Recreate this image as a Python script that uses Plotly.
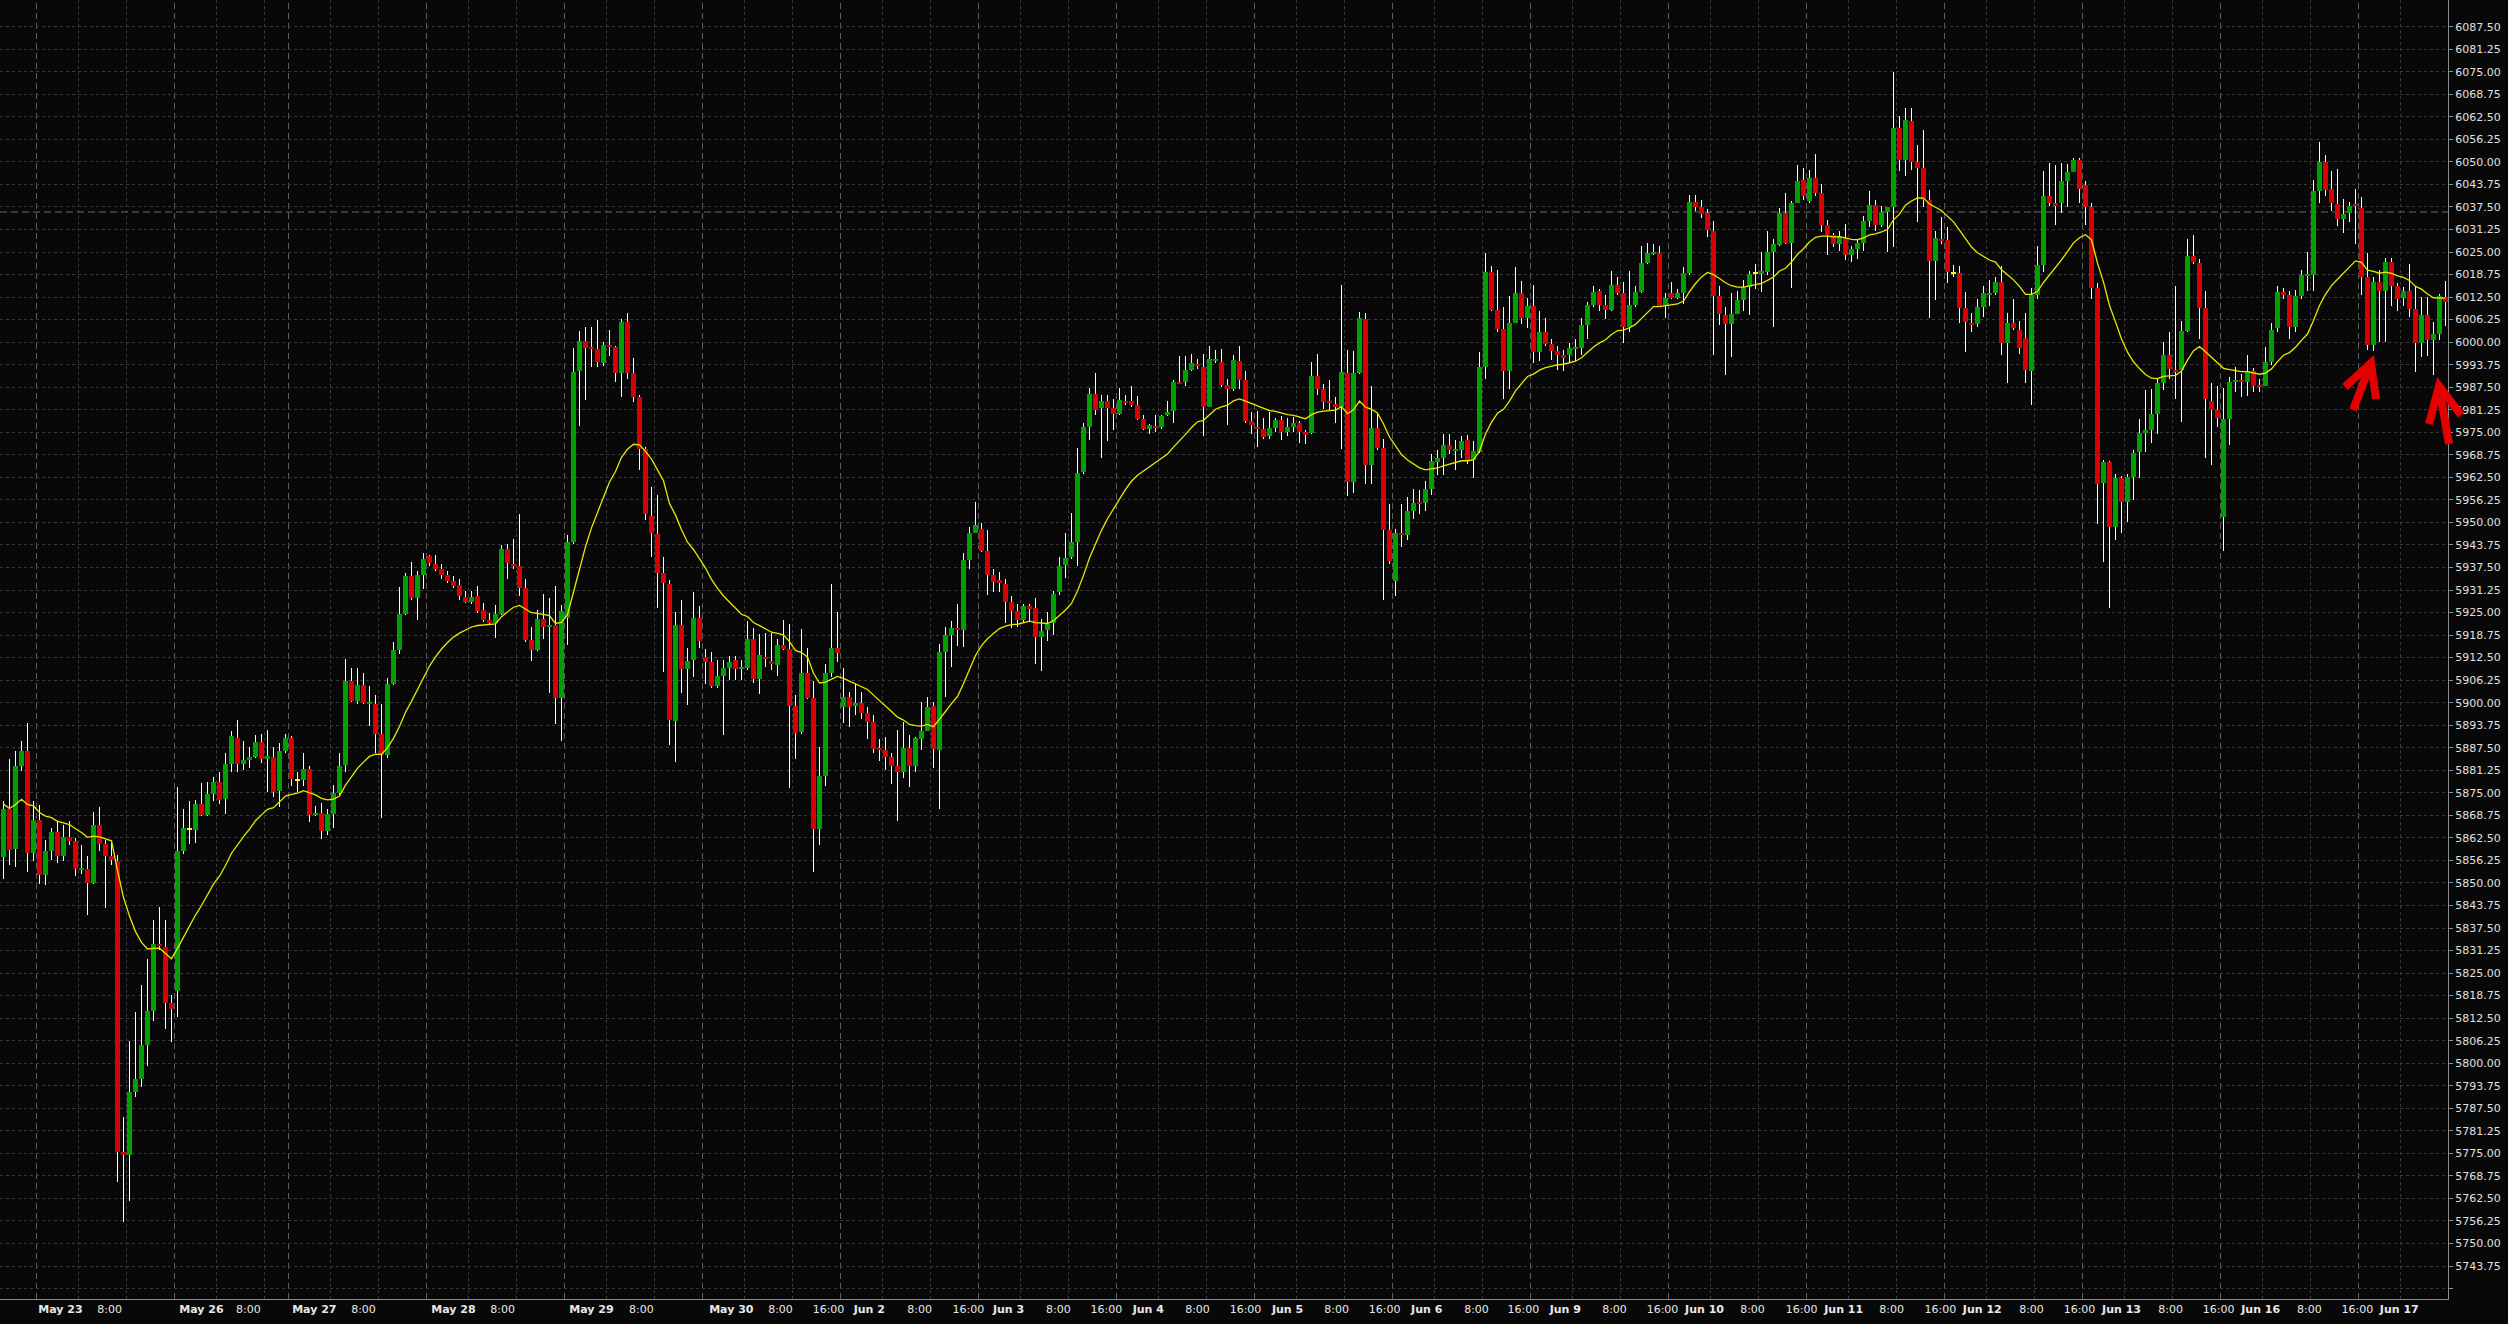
import plotly.graph_objects as go

# ---------------- data (hourly bars) ----------------
opens = [5857.1,5870.6,5859.4,5882.3,5886.7,5858.2,5867.5,5852.2,5858.9,5864.2,5857.5,5862.8,5861.6,5853.8,5854.0,5850.0,5866.1,5860.8,5857.4,5856.1,
5775.4,5774.5,5791.9,5795.6,5805.0,5814.4,5833.2,5832.3,5816.8,5819.9,5858.9,5864.8,5864.8,5871.9,5868.8,5874.6,5878.0,5873.3,5882.9,5890.3,
5883.1,5884.0,5885.0,5889.2,5884.3,5885.0,5875.5,5886.6,5890.3,5878.4,5878.6,5881.7,5868.8,5869.5,5864.5,5869.2,5874.9,5882.6,5906.0,5900.5,
5904.8,5899.9,5899.7,5891.4,5885.4,5905.2,5914.5,5924.6,5935.1,5929.0,5935.4,5940.7,5938.4,5937.1,5935.5,5933.7,5932.7,5929.4,5928.0,5929.6,
5925.7,5923.0,5922.0,5924.6,5942.7,5938.4,5937.8,5931.7,5917.3,5914.6,5923.3,5921.0,5921.6,5901.2,5923.6,5944.5,5992.1,6000.3,5998.7,5998.1,
5994.3,5999.2,5998.7,5991.4,6005.7,5991.4,5984.7,5970.3,5951.8,5946.8,5936.1,5932.8,5895.0,5921.5,5909.4,5911.9,5923.4,5912.7,5911.4,5904.6,
5907.5,5909.7,5911.9,5909.4,5909.7,5917.6,5906.6,5912.8,5911.7,5910.5,5916.0,5914.9,5899.1,5891.8,5908.1,5901.3,5865.0,5879.8,5908.1,5915.2,
5898.8,5901.5,5899.0,5899.9,5897.1,5894.7,5887.2,5887.0,5884.8,5882.5,5880.7,5887.5,5882.5,5889.8,5892.2,5899.1,5886.9,5914.1,5918.7,5920.7,
5920.2,5939.6,5947.2,5948.3,5942.1,5935.5,5933.9,5932.8,5927.8,5925.4,5922.9,5926.7,5926.4,5918.3,5920.1,5922.0,5930.6,5938.2,5940.4,5944.5,
5964.0,5976.6,5985.6,5981.6,5983.6,5981.6,5980.2,5983.6,5983.6,5982.7,5978.8,5975.9,5976.7,5976.4,5979.7,5980.8,5988.9,5988.9,5992.2,5994.0,
5993.1,5982.1,5994.9,5994.4,5988.2,5986.9,5994.8,5989.4,5978.2,5976.3,5976.0,5974.0,5976.2,5978.5,5975.0,5976.5,5977.5,5975.0,5974.7,5990.7,
5987.1,5983.7,5982.9,5981.9,5991.4,5961.1,5991.4,6006.3,5965.8,5976.3,5970.7,5948.0,5933.8,5947.2,5946.5,5953.1,5955.6,5955.4,5959.3,5966.8,
5968.0,5971.5,5970.0,5970.2,5972.8,5967.2,5969.6,5993.1,6019.4,6008.9,6003.6,5992.0,6005.3,6013.5,6006.8,6010.0,5997.4,6002.8,5999.6,5997.6,
5996.3,5996.3,5998.3,5998.3,6004.8,6010.4,6014.2,6010.4,6008.9,6015.9,6013.5,6004.3,6010.4,6013.9,6021.9,6024.6,6024.8,6009.9,6013.5,6012.2,
6013.5,6019.2,6038.8,6037.5,6035.7,6030.8,6012.7,6007.5,6005.0,6007.9,6011.7,6015.2,6018.9,6018.9,6019.4,6025.1,6027.0,6035.7,6027.6,6038.5,
6044.9,6039.2,6045.6,6041.5,6032.4,6029.6,6027.3,6029.0,6024.3,6025.8,6027.6,6033.6,6038.0,6032.4,6036.1,6037.4,6059.5,6050.4,6061.3,6050.1,
6048.3,6039.5,6022.4,6028.6,6028.3,6018.9,6019.2,6009.5,6005.3,6005.0,6009.7,6013.3,6013.6,6016.8,5999.9,6005.2,6003.4,6001.2,5992.1,6013.1,
6021.4,6040.5,6038.5,6038.5,6044.8,6047.1,6050.6,6043.7,6037.4,6014.9,5960.8,5966.7,5948.6,5962.3,5955.7,5962.6,5969.6,5974.8,5975.5,5980.1,
5988.7,5996.4,5992.3,5992.3,6003.2,6023.9,6022.0,6009.5,5983.6,5981.3,5951.4,5978.6,5989.0,5989.5,5989.0,5992.1,5988.2,5987.7,5994.6,6003.9,
6013.8,6013.1,6004.2,6012.8,6018.5,6018.5,6041.8,6049.9,6042.5,6038.3,6034.1,6035.9,6038.2,6037.1,6018.2,5999.2,6016.8,6014.2,6022.1,6015.7,
6012.2,6014.3,6009.1,5999.7,6007.5,6000.6,6002.3,6012.6]

highs = [5872.6,5884.4,5886.7,5889.4,5894.5,5872.6,5871.5,5861.8,5865.2,5867.2,5866.2,5867.2,5862.5,5860.5,5857.5,5869.6,5871.0,5861.8,5861.2,5857.8,
5785.0,5806.1,5814.1,5821.8,5828.9,5839.7,5843.4,5839.7,5818.8,5876.6,5870.6,5872.6,5872.9,5877.7,5878.0,5879.3,5880.7,5886.0,5892.1,5895.2,
5889.4,5887.6,5891.1,5891.4,5892.5,5887.6,5888.7,5891.4,5890.7,5880.7,5886.0,5882.3,5871.3,5872.3,5870.6,5877.3,5886.0,5912.2,5909.6,5909.6,
5908.2,5904.6,5902.2,5899.5,5906.9,5916.9,5932.0,5936.0,5939.1,5936.4,5941.4,5941.1,5941.1,5938.4,5936.4,5935.1,5934.4,5931.1,5931.1,5932.4,
5927.7,5925.0,5927.0,5943.8,5944.1,5945.4,5952.2,5934.4,5921.0,5925.7,5930.1,5929.0,5932.4,5927.0,5946.5,5998.5,6003.1,6004.3,6004.1,6006.1,
6000.1,6003.4,5999.0,6006.5,6008.2,5995.5,5985.3,5971.0,5959.9,5957.6,5940.5,5933.9,5925.1,5928.6,5915.2,5930.6,5926.7,5914.9,5914.1,5911.9,
5911.9,5913.0,5913.0,5911.9,5922.7,5920.7,5919.1,5919.3,5919.3,5917.6,5922.9,5921.8,5902.0,5920.5,5915.2,5905.9,5887.8,5910.8,5933.0,5925.1,
5909.7,5903.1,5905.3,5903.1,5898.8,5896.6,5890.0,5890.5,5886.1,5892.4,5894.6,5891.1,5890.5,5900.1,5901.5,5900.1,5916.3,5920.9,5922.7,5927.3,
5941.5,5948.7,5955.6,5949.8,5947.9,5937.1,5936.3,5934.4,5929.5,5927.3,5927.5,5927.3,5928.9,5923.1,5925.1,5931.1,5940.4,5947.0,5952.7,5970.6,
5977.7,5987.4,5991.5,5985.4,5985.4,5984.3,5987.4,5985.4,5987.8,5985.1,5979.9,5977.2,5979.9,5979.9,5983.8,5989.6,5996.2,5996.2,5996.7,5995.3,
5996.7,5998.8,5997.7,5998.0,5989.8,5996.3,5998.8,5991.9,5980.5,5980.9,5979.0,5980.5,5979.0,5979.5,5979.0,5979.2,5978.0,5975.5,5994.6,5996.6,
5988.4,5989.4,5984.7,6015.9,5997.8,5997.6,6008.4,6008.2,5987.9,5980.0,5973.0,5955.2,5948.2,5955.2,5957.1,5959.4,5959.1,5961.6,5969.1,5970.0,
5974.5,5974.5,5972.8,5974.0,5974.2,5972.5,5997.3,6024.6,6021.1,6020.1,6009.7,6012.7,6020.8,6016.9,6012.2,6015.9,6008.7,6006.8,6000.8,5998.8,
5997.8,5999.8,6000.8,6006.8,6011.2,6015.5,6014.7,6013.2,6019.6,6018.2,6016.7,6019.6,6015.5,6026.8,6027.6,6027.1,6026.6,6013.7,6016.7,6014.7,
6020.8,6040.7,6040.7,6039.5,6037.0,6033.7,6015.5,6009.7,6013.7,6014.2,6017.2,6019.6,6021.8,6025.1,6030.8,6028.6,6037.3,6041.3,6039.2,6049.2,
6048.4,6047.7,6052.2,6044.0,6034.0,6030.3,6030.8,6032.9,6026.8,6028.3,6034.9,6042.0,6039.5,6037.9,6037.6,6074.8,6062.8,6064.9,6064.9,6054.7,
6058.9,6042.3,6030.8,6034.6,6031.9,6021.4,6021.2,6013.9,6008.0,6012.1,6015.6,6017.1,6018.2,6021.0,6008.0,6012.1,6006.0,6008.0,6015.1,6026.8,
6047.6,6049.6,6049.1,6049.6,6049.4,6051.1,6051.1,6044.6,6038.5,6016.3,5967.4,5966.9,5963.3,5962.8,5963.3,5970.2,5978.6,5986.7,5986.9,5989.7,
6000.0,6002.9,6015.6,6006.0,6028.5,6029.8,6023.2,6014.3,5988.7,5987.7,5987.2,5990.2,5993.0,5991.3,5996.3,5992.8,5989.7,5998.7,6005.2,6015.6,
6015.1,6014.1,6014.6,6019.9,6025.0,6045.0,6055.5,6051.9,6047.6,6048.1,6039.7,6039.0,6042.5,6040.3,6024.6,6018.2,6020.0,6023.4,6023.4,6016.4,
6015.4,6021.6,6015.4,6012.5,6012.5,6005.5,6013.4,6016.9]

lows = [5851.1,5855.1,5854.5,5881.0,5853.1,5856.0,5849.7,5849.4,5856.5,5855.5,5856.0,5860.5,5851.8,5852.5,5841.0,5849.7,5859.0,5843.0,5855.0,5767.1,
5755.9,5761.7,5790.6,5793.3,5799.3,5811.8,5831.5,5809.4,5806.0,5812.8,5858.0,5860.8,5861.2,5868.6,5868.6,5872.6,5871.9,5869.2,5880.7,5880.9,
5881.3,5882.0,5884.7,5883.4,5875.3,5873.9,5871.0,5886.0,5876.9,5875.3,5877.0,5867.0,5868.5,5862.1,5863.2,5865.2,5874.5,5880.7,5900.1,5899.5,
5899.5,5893.4,5886.0,5867.9,5884.7,5904.9,5913.6,5924.4,5928.4,5923.0,5931.5,5938.0,5936.4,5934.4,5933.1,5931.7,5928.4,5927.7,5927.4,5925.0,
5922.3,5921.6,5918.0,5924.3,5934.4,5937.1,5929.7,5916.9,5911.6,5914.3,5917.6,5902.6,5894.1,5889.4,5915.9,5944.0,5976.8,5983.9,5993.2,5993.2,
5993.4,5996.2,5989.0,5984.9,5989.7,5983.5,5964.5,5950.8,5940.3,5926.2,5908.6,5888.3,5883.6,5902.6,5899.3,5907.0,5915.2,5905.3,5904.2,5904.2,
5891.1,5906.4,5906.4,5906.2,5909.2,5905.5,5902.3,5910.0,5909.2,5907.5,5914.7,5876.3,5884.5,5891.3,5900.9,5852.9,5860.4,5876.8,5907.0,5911.4,
5894.4,5893.3,5896.6,5895.5,5890.0,5886.1,5883.9,5881.2,5877.4,5867.3,5879.2,5876.5,5880.9,5886.9,5892.2,5881.9,5870.4,5901.5,5910.0,5915.8,
5915.4,5937.1,5947.0,5941.8,5930.0,5930.6,5930.6,5922.0,5920.7,5920.9,5922.0,5922.3,5910.8,5908.9,5917.2,5918.7,5930.0,5934.7,5939.9,5938.0,
5963.5,5972.8,5979.9,5967.9,5972.5,5975.5,5979.9,5982.7,5982.1,5978.3,5975.5,5974.5,5975.0,5975.8,5979.4,5977.5,5988.3,5987.8,5992.0,5992.6,
5973.9,5982.0,5994.2,5987.6,5976.9,5986.4,5986.9,5977.5,5974.5,5971.0,5973.0,5973.0,5975.0,5972.8,5974.0,5975.0,5972.0,5971.8,5974.5,5985.4,
5981.4,5981.1,5977.5,5970.5,5957.3,5958.1,5991.1,5960.6,5960.6,5970.0,5928.4,5938.5,5929.7,5943.3,5945.2,5950.9,5952.2,5953.2,5957.6,5963.1,
5963.1,5969.0,5964.6,5968.0,5966.1,5962.3,5969.2,5989.9,6008.7,6002.8,5984.1,5986.9,6005.3,6005.0,6003.8,5994.3,5994.8,5998.8,5995.0,5992.4,
5991.9,5994.1,5994.8,5996.3,6000.8,6009.7,6008.7,6006.3,6008.7,6013.2,5999.8,6002.8,6009.7,6013.7,6021.6,6024.1,6009.7,6006.8,6011.9,6011.9,
6010.7,6018.6,6036.5,6034.5,6029.1,5996.3,6004.8,5990.9,5996.0,6007.7,6008.7,6007.5,6014.7,6013.9,6018.6,6004.3,6026.6,6027.1,6015.0,6038.5,
6039.5,6038.5,6040.5,6030.6,6024.1,6026.3,6025.3,6022.7,6022.2,6023.2,6025.3,6031.9,6030.9,6031.9,6025.0,6026.3,6047.6,6046.1,6047.8,6033.4,
6037.5,6006.8,6011.6,6027.3,6016.3,6018.2,6005.3,5997.4,6002.9,6004.2,6007.0,6010.0,6013.1,5996.3,5988.7,6003.4,5996.8,5988.7,5982.6,6012.1,
6019.5,6037.9,6032.4,6035.9,6037.5,6047.1,6038.5,6032.4,6012.0,5949.6,5939.0,5926.3,5945.1,5947.1,5950.2,5956.2,5962.3,5969.4,5972.0,5974.5,
5986.7,5989.7,5984.1,5977.8,6002.9,6021.7,6000.9,5967.9,5965.9,5976.6,5942.0,5971.5,5986.2,5984.7,5985.2,5986.2,5986.2,5987.7,5993.8,6002.9,
6012.1,6000.9,6002.9,6012.1,6014.1,6014.1,6038.6,6040.5,6036.4,6032.2,6030.3,6033.4,6027.3,6013.1,5997.9,5997.6,6000.1,6000.0,6010.0,6008.6,
6010.0,6007.0,5991.8,5996.0,5996.2,5990.8,6000.6,6004.5]

closes = [5870.6,5859.2,5882.3,5886.7,5858.2,5867.5,5852.2,5858.9,5864.2,5857.5,5862.8,5861.6,5853.8,5854.2,5850.0,5866.1,5860.8,5857.4,5856.3,5775.4,
5774.5,5791.9,5795.6,5805.0,5814.4,5833.2,5832.5,5816.8,5815.1,5858.9,5865.2,5864.8,5871.9,5868.8,5874.6,5878.0,5872.9,5882.9,5890.7,5883.1,
5884.0,5885.0,5889.2,5884.3,5885.2,5875.3,5886.6,5890.3,5878.9,5878.4,5881.7,5868.8,5869.5,5864.5,5869.2,5874.9,5882.4,5906.0,5900.5,5904.8,
5899.9,5900.1,5891.4,5885.4,5905.2,5914.5,5924.6,5935.1,5929.0,5935.4,5939.8,5938.8,5937.1,5935.5,5933.7,5932.4,5929.7,5928.0,5929.4,5925.3,
5923.0,5922.0,5924.6,5942.7,5938.7,5937.8,5931.7,5917.3,5914.6,5923.3,5921.0,5921.6,5901.2,5925.3,5944.5,5991.8,6000.3,5998.5,5998.1,5994.6,
5999.2,5998.7,5991.4,6005.7,5991.5,5984.7,5970.3,5952.2,5947.0,5936.1,5933.1,5895.2,5921.5,5909.4,5911.6,5923.4,5917.1,5911.4,5904.6,5907.5,
5909.7,5911.4,5909.4,5909.7,5917.6,5906.6,5913.2,5912.1,5910.6,5916.0,5914.9,5899.1,5891.6,5908.1,5901.3,5865.0,5879.8,5908.1,5915.2,5913.8,
5901.5,5898.8,5899.9,5897.1,5894.7,5887.2,5886.9,5885.0,5882.5,5880.9,5887.5,5882.5,5890.3,5892.2,5898.8,5887.2,5914.1,5918.7,5920.7,5920.2,
5939.6,5947.0,5949.2,5942.1,5935.5,5933.5,5933.3,5927.8,5925.3,5922.9,5926.7,5926.2,5918.3,5919.9,5921.8,5930.2,5938.0,5940.2,5944.5,5963.8,
5976.6,5985.6,5981.3,5983.6,5981.6,5980.0,5984.0,5983.0,5982.7,5978.8,5975.9,5976.9,5976.3,5979.4,5980.7,5988.9,5988.5,5992.2,5994.2,5993.3,
5982.1,5995.3,5995.3,5988.2,5986.9,5995.0,5989.4,5978.2,5977.0,5976.0,5973.8,5976.2,5978.5,5975.0,5976.5,5977.5,5975.0,5974.5,5990.7,5987.1,
5983.4,5983.1,5981.9,5991.7,5961.1,5991.4,6006.6,5965.8,5976.3,5970.7,5948.0,5939.3,5947.2,5946.5,5953.1,5955.4,5955.2,5959.3,5966.9,5967.9,
5971.5,5970.0,5970.4,5972.6,5967.1,5969.8,5993.1,6019.4,6008.9,6003.6,5991.9,6005.3,6013.5,6006.8,6010.0,5997.4,6002.8,5999.6,5997.6,5996.3,
5995.8,5998.3,5998.6,6004.8,6010.4,6013.9,6010.4,6008.9,6015.9,6013.7,6004.3,6010.4,6013.9,6021.9,6024.6,6024.8,6009.9,6012.2,6012.2,6013.5,
6019.2,6039.0,6037.5,6035.5,6031.1,6012.7,6007.9,6005.0,6007.9,6011.7,6015.2,6018.9,6018.9,6019.6,6025.1,6027.1,6035.7,6027.6,6038.5,6044.8,
6040.5,6045.6,6041.5,6032.4,6029.6,6027.3,6029.5,6024.3,6025.8,6027.6,6033.6,6038.0,6032.4,6036.1,6037.4,6059.5,6050.4,6061.6,6050.1,6048.3,
6039.5,6022.4,6028.8,6028.3,6019.4,6018.9,6009.5,6005.5,6004.8,6009.7,6013.7,6013.7,6016.8,5999.9,6005.2,6004.0,5998.4,5992.3,6013.1,6021.4,
6040.5,6038.5,6038.0,6044.8,6047.1,6050.6,6042.5,6037.6,6014.9,5960.6,5966.7,5948.6,5962.3,5955.7,5962.6,5969.2,5974.8,5975.5,5980.1,5988.7,
5996.4,5992.6,5991.9,6003.2,6023.9,6022.2,6009.5,5984.1,5981.3,5979.0,5978.6,5989.0,5989.5,5989.0,5992.1,5987.9,5987.7,5994.6,6003.4,6013.8,
6013.1,6004.2,6012.8,6018.5,6018.8,6041.8,6049.9,6042.3,6038.7,6034.1,6035.6,6037.9,6037.8,6018.2,5999.1,6016.6,6014.3,6022.1,6015.7,6012.0,
6014.1,6009.1,5999.7,6007.5,6000.6,6002.3,6012.8,6011.0]

# first bar index of each trading day (1:00 server time)
day_starts = [6, 29, 48, 71, 94, 117, 140, 163, 186, 209, 232, 255, 278, 301, 324, 347, 370, 393]
intraday_offsets = [7, 15]          # 8:00 and 16:00 bars

# time-axis labels and their positions (bar units)
tick_pos = [9.5, 17.7, 33.0, 40.8, 51.8, 60.0, 75.0, 83.2, 98.0, 106.3, 121.3, 129.5, 137.5, 144.3, 152.7, 160.8,
            167.5, 175.8, 183.8, 190.8, 199.0, 207.0, 214.0, 222.2, 230.2, 237.2, 245.5, 253.3, 260.3, 268.5, 276.5,
            283.5, 291.5, 299.7, 306.7, 314.7, 322.8, 329.8, 338.0, 346.0, 353.0, 361.2, 369.2, 376.2, 384.3, 392.3, 399.3]
tick_txt = ["May 23", "8:00", "May 26", "8:00", "May 27", "8:00", "May 28", "8:00", "May 29", "8:00",
            "May 30", "8:00", "16:00", "Jun 2", "8:00", "16:00", "Jun 3", "8:00", "16:00", "Jun 4", "8:00", "16:00",
            "Jun 5", "8:00", "16:00", "Jun 6", "8:00", "16:00", "Jun 9", "8:00", "16:00", "Jun 10", "8:00", "16:00",
            "Jun 11", "8:00", "16:00", "Jun 12", "8:00", "16:00", "Jun 13", "8:00", "16:00", "Jun 16", "8:00", "16:00", "Jun 17"]

price_step = 6.25
price_lo, price_hi = 5737.5, 6087.5
h_line_level = 6036.1
ema_period = 20
ema_seed = 5872.0

# ---------------- derived ----------------
n = len(closes)
idx = list(range(n))

alpha = 2.0 / (ema_period + 1)
ema, prev = [], ema_seed
for c in closes:
    prev = prev + alpha * (c - prev)
    ema.append(prev)

UP, DN, DOJI = "#00a000", "#d80000", "#ffff00"
base, hgt, cols = [], [], []
for o, c in zip(opens, closes):
    base.append(min(o, c))
    d = abs(c - o)
    hgt.append(max(d, 0.3))
    cols.append(DOJI if d == 0 else (UP if c > o else DN))

fig = go.Figure()
# wicks (thin white bars from low to high)
fig.add_trace(go.Bar(x=idx, y=[h - l for h, l in zip(highs, lows)], base=lows, width=1 / 6,
                     marker=dict(color="#ffffff", line=dict(width=0)), hoverinfo="skip"))
# bodies
fig.add_trace(go.Bar(x=idx, y=hgt, base=base, width=5 / 6,
                     marker=dict(color=cols, line=dict(width=0))))
# moving average
fig.add_trace(go.Scatter(x=idx, y=ema, mode="lines", line=dict(color="#e8e800", width=1.3)))

shapes = []
for k, d in enumerate(day_starts):
    nxt = day_starts[k + 1] if k + 1 < len(day_starts) else n + 50
    shapes.append(dict(type="line", xref="x", yref="paper", x0=d - 0.5, x1=d - 0.5, y0=0, y1=1,
                       line=dict(color="#5e5e5e", width=1, dash="6px,4px"), layer="below"))
    for off in intraday_offsets:
        if d + off < nxt:
            shapes.append(dict(type="line", xref="x", yref="paper", x0=d + off - 0.5, x1=d + off - 0.5,
                               y0=0, y1=1, line=dict(color="#3a3a3a", width=1, dash="3px,3px"), layer="below"))
shapes.append(dict(type="line", xref="paper", yref="y", x0=0, x1=1, y0=h_line_level, y1=h_line_level,
                   line=dict(color="#6a6a6a", width=1, dash="7px,4px"), layer="below"))

# hand-drawn red arrows (pixel positions converted to paper fractions)
PW, PH = 2448.0, 1299.0
def P(x, y):
    return "%.5f,%.5f" % (x / PW, 1 - y / PH)
arrows = [
    [(2353, 410), (2371, 363), (2345, 387), (2371, 363), (2376, 399)],
    [(2449, 444), (2439, 386), (2429, 424), (2439, 386), (2461, 415)],
]
for a in arrows:
    path = "M" + P(*a[0]) + " L" + P(*a[1]) + " M" + P(*a[2]) + " L" + P(*a[3]) + " L" + P(*a[4])
    shapes.append(dict(type="path", xref="paper", yref="paper", path=path,
                       line=dict(color="#e30000", width=8), layer="above"))

yt, v = [], price_lo
while v <= price_hi + 1e-9:
    yt.append(round(v, 2))
    v += price_step
ytxt = ["" if t == price_lo else "%.2f" % t for t in yt]

x_shift = 1 / 12   # half-pixel so 1-px wicks fall on whole pixels
fig.update_layout(
    width=2508, height=1324,
    margin=dict(l=0, r=60, t=0, b=25, pad=0),
    paper_bgcolor="#080808", plot_bgcolor="#080808",
    showlegend=False, shapes=shapes, barmode="overlay", bargap=0,
    xaxis=dict(range=[-0.5 - x_shift, n - 0.5 - x_shift], showgrid=False, zeroline=False,
               tickmode="array", tickvals=tick_pos,
               ticktext=[("<b>%s</b>" % t) if t[0].isalpha() else t for t in tick_txt],
               tickfont=dict(family="DejaVu Sans", size=11, color="#e8e8e8"),
               ticks="", showline=True, linecolor="#8c8c8c", linewidth=1, mirror=False),
    yaxis=dict(range=[5734.6, 6094.9], side="right", zeroline=False,
               tickmode="array", tickvals=yt, ticktext=ytxt,
               tickfont=dict(family="DejaVu Sans", size=11, color="#e0e0e0"),
               ticks="outside", ticklen=4, tickcolor="#8c8c8c",
               showgrid=True, gridcolor="#3a3a3a", gridwidth=1, griddash="3px,3px",
               showline=True, linecolor="#8c8c8c", linewidth=1),
)

fig.write_html("out.html", config={"displayModeBar": False},
               post_script="document.body.style.margin='0';document.body.style.overflow='hidden';")
